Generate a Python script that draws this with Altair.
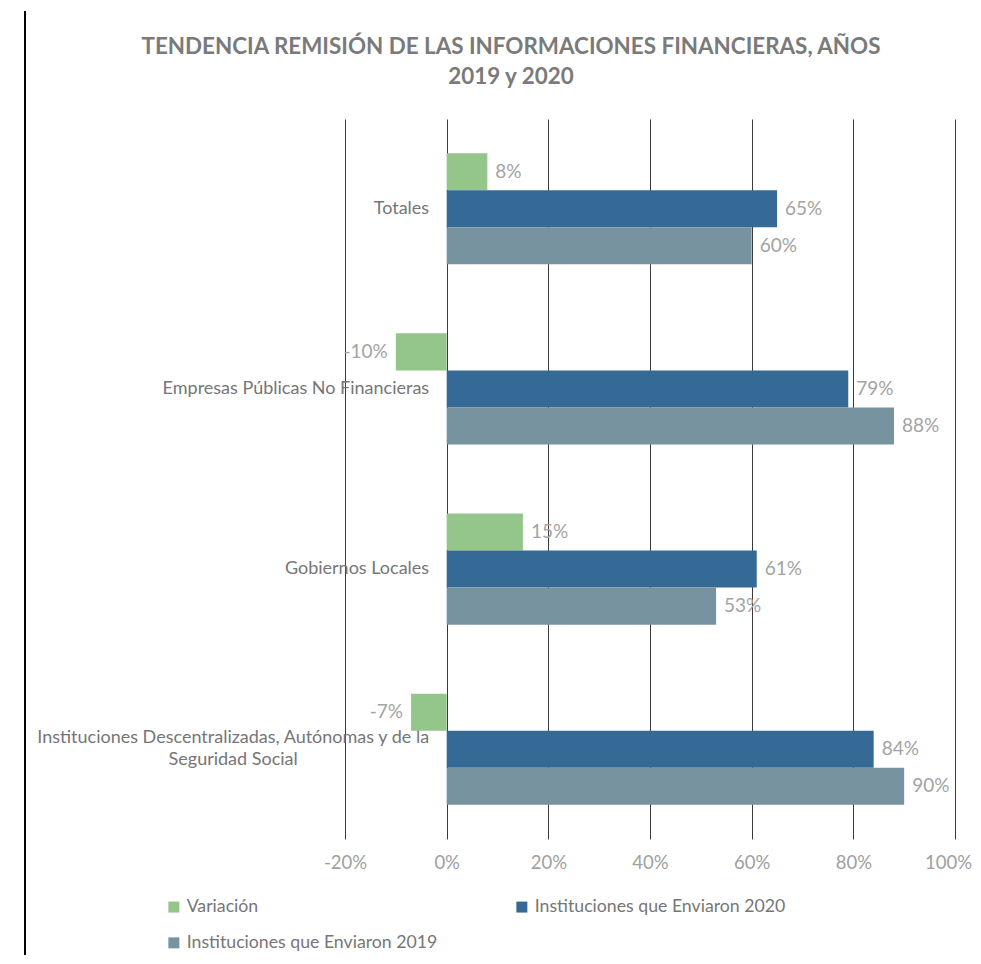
import altair as alt
import pandas as pd

categories = [
    "Totales",
    "Empresas Públicas No Financieras",
    "Gobiernos Locales",
    "Instituciones Descentralizadas, Autónomas y de la Seguridad Social",
]
series = ["Variación", "Instituciones que Enviaron 2020", "Instituciones que Enviaron 2019"]
variacion = [0.08, -0.10, 0.15, -0.07]
enviaron_2020 = [0.65, 0.79, 0.61, 0.84]
enviaron_2019 = [0.60, 0.88, 0.53, 0.90]
x_ticks = [-0.2, 0.0, 0.2, 0.4, 0.6, 0.8, 1.0]
colors = ["#94c58b", "#356a97", "#77939f"]

rows = []
for i, c in enumerate(categories):
    for s, vals in zip(series, [variacion, enviaron_2020, enviaron_2019]):
        rows.append({"Categoria": c, "Serie": s, "Valor": vals[i]})
df = pd.DataFrame(rows)

FONT = "Lato"
LONG = categories[3]
IS_LONG = f"datum.value == '{LONG}'"

y_enc = alt.Y(
    "Categoria:N",
    sort=categories,
    scale=alt.Scale(paddingInner=0.383, paddingOuter=0.19),
    axis=alt.Axis(
        title=None,
        domain=False,
        ticks=False,
        grid=False,
        offset=-101.667,
        labelFont=FONT,
        labelFontSize=18,
        labelColor="#767676",
        labelLimit=600,
        labelAlign={"condition": {"test": IS_LONG, "value": "center"}, "value": "right"},
        labelPadding={"condition": {"test": IS_LONG, "value": 214}, "value": 18},
        labelOffset={"condition": {"test": IS_LONG, "value": -11}, "value": 0},
        labelExpr=f"datum.label == '{LONG}' ? ['Instituciones Descentralizadas, Autónomas y de la', 'Seguridad Social'] : datum.label",
        labelLineHeight=22,
    ),
)
yoff = alt.YOffset("Serie:N", sort=series, scale=alt.Scale(paddingInner=0, paddingOuter=0))
x_enc = alt.X(
    "Valor:Q",
    scale=alt.Scale(domain=[-0.2, 1.0], nice=False, zero=False),
    axis=alt.Axis(
        title=None,
        values=x_ticks,
        format=".0%",
        labelExpr="replace(datum.label, '\u2212', '-')",
        grid=True,
        gridColor="#3a3a3a",
        gridWidth=1,
        domain=False,
        ticks=False,
        labelFlush=False,
        labelFont=FONT,
        labelFontSize=18.5,
        labelColor="#a0a0a0",
        labelPadding=14,
        labelOffset={"condition": {"test": "datum.value == 1", "value": -7}, "value": 0},
    ),
)

base = alt.Chart(df).transform_calculate(
    etiqueta="replace(format(datum.Valor, '.0%'), '\u2212', '-')"
)

bars = base.mark_bar().encode(
    x=x_enc,
    y=y_enc,
    yOffset=yoff,
    color=alt.Color(
        "Serie:N",
        sort=series,
        scale=alt.Scale(domain=series, range=colors),
        legend=alt.Legend(
            title=None,
            orient="none",
            legendX=-180,
            legendY=779,
            columns=2,
            columnPadding=75,
            rowPadding=17,
            symbolType="square",
            symbolSize=121,
            symbolStrokeWidth=0,
            labelFont=FONT,
            labelFontSize=17.7,
            labelColor="#767676",
            labelLimit=400,
            direction="horizontal",
        ),
    ),
)

label_common = dict(font=FONT, fontSize=19, color="#a3a3a3", baseline="middle")
pos_text = base.transform_filter("datum.Valor >= 0").mark_text(align="left", dx=8, **label_common).encode(
    x="Valor:Q", y=alt.Y("Categoria:N", sort=categories), yOffset=alt.YOffset("Serie:N", sort=series),
    text="etiqueta:N",
)
neg_text = base.transform_filter("datum.Valor < 0").mark_text(align="right", dx=-8, **label_common).encode(
    x="Valor:Q", y=alt.Y("Categoria:N", sort=categories), yOffset=alt.YOffset("Serie:N", sort=series),
    text="etiqueta:N",
)

edge = alt.Chart(pd.DataFrame({"a": [0]})).mark_rule(color="black", strokeWidth=2).encode(
    x=alt.value(-320), y=alt.value(-108), y2=alt.value(836)
)

chart = (
    alt.layer(bars, pos_text, neg_text, edge)
    .properties(
        width=610,
        height=720,
        padding={"left": 16, "top": 2, "right": 0, "bottom": 0},
        title=alt.TitleParams(
            text=["TENDENCIA REMISIÓN DE LAS INFORMACIONES FINANCIERAS, AÑOS", "2019 y 2020"],
            font=FONT,
            fontSize=22.4,
            fontWeight="bold",
            color="#7a7a7a",
            anchor="middle",
            dx=-139,
            offset=-78,
            lineHeight=30,
        ),
    )
    .configure_view(stroke=None)
)

chart.save("out.html", embed_options={"renderer": "svg", "actions": False})
